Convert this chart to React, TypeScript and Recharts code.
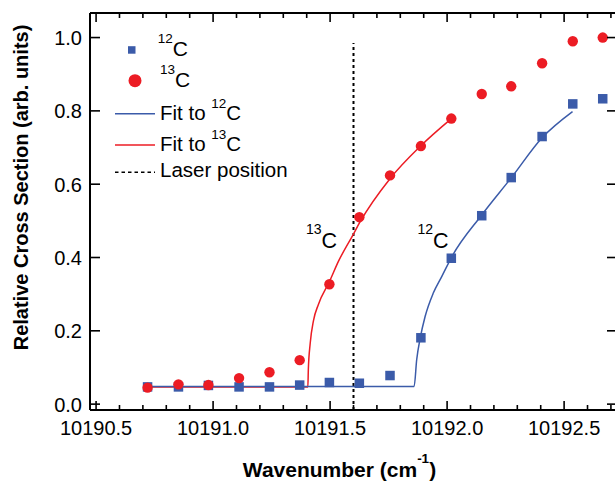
import React from "react";
import {
  ComposedChart,
  XAxis,
  YAxis,
  Line,
  Scatter,
  ReferenceLine,
  ReferenceDot,
} from "recharts";

const BLUE = "#3b5ba9";
const RED = "#ec1c24";
const FONT = "'Liberation Sans', Arial, Helvetica, sans-serif";

// measured points (wavenumber in cm-1)
const wavenumbers = [
  10190.72, 10190.852, 10190.98, 10191.111, 10191.241, 10191.37, 10191.497,
  10191.625, 10191.756, 10191.888, 10192.018, 10192.148, 10192.274, 10192.406,
  10192.537, 10192.665,
];
const c12Values = [
  0.047, 0.047, 0.051, 0.047, 0.047, 0.052, 0.059, 0.057, 0.078, 0.181, 0.398,
  0.514, 0.618, 0.73, 0.819, 0.833,
];
const c13Values = [
  0.045, 0.054, 0.052, 0.071, 0.087, 0.12, 0.327, 0.51, 0.624, 0.704, 0.779,
  0.846, 0.867, 0.93, 0.99, 1.0,
];

// fit curves
const fit12X = [
  10190.72, 10191.859, 10191.87, 10191.885, 10191.906, 10191.941, 10191.977,
  10192.02, 10192.148, 10192.276, 10192.405, 10192.536,
];
const fit12Y = [
  0.048, 0.048, 0.121, 0.18, 0.239, 0.303, 0.348, 0.402, 0.516, 0.619, 0.726,
  0.798,
];
const fit13X = [
  10190.72, 10191.405, 10191.407, 10191.415, 10191.429, 10191.45, 10191.497,
  10191.536, 10191.598, 10191.626, 10191.756, 10191.885, 10192.017,
];
const fit13Y = [
  0.047, 0.047, 0.094, 0.166, 0.228, 0.272, 0.334, 0.39, 0.462, 0.495, 0.615,
  0.703, 0.778,
];

const laserPosition = 10191.6;
const laserTop = 0.985;

const xTicks = [
  10190.5, 10190.6, 10190.7, 10190.8, 10190.9, 10191.0, 10191.1, 10191.2,
  10191.3, 10191.4, 10191.5, 10191.6, 10191.7, 10191.8, 10191.9, 10192.0,
  10192.1, 10192.2, 10192.3, 10192.4, 10192.5, 10192.6, 10192.7,
];
const yTicks = [0, 0.2, 0.4, 0.6, 0.8, 1.0];

const X_DOMAIN: [number, number] = [10190.474, 10192.726];
const Y_DOMAIN: [number, number] = [-0.016, 1.067];

const c12Data = wavenumbers.map((x, i) => ({ x, y: c12Values[i] }));
const c13Data = wavenumbers.map((x, i) => ({ x, y: c13Values[i] }));
const fit12Data = fit12X.map((x, i) => ({ x, y: fit12Y[i] }));
const fit13Data = fit13X.map((x, i) => ({ x, y: fit13Y[i] }));

const isMajor = (v: number) => Math.abs(v * 2 - Math.round(v * 2)) < 1e-6;

const BottomTick = (props: any) => {
  const { x, y, payload } = props;
  const v = payload.value;
  const major = isMajor(v);
  return (
    <g>
      <line x1={x} x2={x} y1={y} y2={y - (major ? 9 : 5)} stroke="#000" strokeWidth={1.6} />
      {major && (
        <text x={x} y={y + 25} textAnchor="middle" fontSize={20} fontFamily={FONT} fill="#000">
          {v.toFixed(1)}
        </text>
      )}
    </g>
  );
};

const TopTick = (props: any) => {
  const { x, y, payload } = props;
  const major = isMajor(payload.value);
  return <line x1={x} x2={x} y1={y} y2={y + (major ? 9 : 5)} stroke="#000" strokeWidth={1.6} />;
};

const LeftTick = (props: any) => {
  const { x, y, payload } = props;
  return (
    <g>
      <line x1={x} x2={x + 10} y1={y} y2={y} stroke="#000" strokeWidth={1.6} />
      <text x={x - 8} y={y + 7.5} textAnchor="end" fontSize={20} fontFamily={FONT} fill="#000">
        {payload.value.toFixed(1)}
      </text>
    </g>
  );
};

const RightTick = (props: any) => {
  const { x, y } = props;
  return <line x1={x} x2={x - 10} y1={y} y2={y} stroke="#000" strokeWidth={1.6} />;
};

const IsoLabel = ({ viewBox, mass }: any) => (
  <text x={viewBox.x} y={viewBox.y} textAnchor="end" fontFamily={FONT} fill="#000">
    <tspan fontSize={14} dy={-13.4}>{mass}</tspan>
    <tspan fontSize={21.5} dy={13.4}>C</tspan>
  </text>
);

const Square = (p: any) => (
  <rect x={p.cx - 4.75} y={p.cy - 4.75} width={9.5} height={9.5} fill={BLUE} />
);
const Circle = (p: any) => <circle cx={p.cx} cy={p.cy} r={5.2} fill={RED} />;

const axisLine = { stroke: "#000", strokeWidth: 2 };

function Legend() {
  return (
    <svg
      width={615}
      height={483}
      style={{ position: "absolute", left: 0, top: 0, pointerEvents: "none" }}
      fontFamily={FONT}
    >
      <rect x={128} y={46.2} width={7.5} height={7.5} fill={BLUE} />
      <text x={157.7} y={56} fill="#000">
        <tspan fontSize={13.5} dy={-13}>12</tspan>
        <tspan fontSize={21} dy={13}>C</tspan>
      </text>
      <circle cx={135} cy={80.7} r={6.5} fill={RED} />
      <text x={160} y={86.7} fill="#000">
        <tspan fontSize={13.5} dy={-13}>13</tspan>
        <tspan fontSize={21} dy={13}>C</tspan>
      </text>

      <line x1={115} x2={155} y1={113.7} y2={113.7} stroke={BLUE} strokeWidth={1.5} />
      <text x={160} y={120} fill="#000" fontSize={20.5}>
        {"Fit to "}
        <tspan fontSize={13.5} dy={-12.3}>12</tspan>
        <tspan dy={12.3}>C</tspan>
      </text>
      <line x1={115} x2={155} y1={145} y2={145} stroke={RED} strokeWidth={1.5} />
      <text x={160} y={151} fill="#000" fontSize={20.5}>
        {"Fit to "}
        <tspan fontSize={13.5} dy={-12.3}>13</tspan>
        <tspan dy={12.3}>C</tspan>
      </text>
      <line
        x1={115}
        x2={155}
        y1={172.3}
        y2={172.3}
        stroke="#000"
        strokeWidth={1.5}
        strokeDasharray="3.5 3"
      />
      <text x={160} y={176.7} fill="#000" fontSize={20.5}>
        Laser position
      </text>
    </svg>
  );
}

export default function App() {
  return (
    <div
      style={{
        position: "absolute",
        left: 0,
        top: 0,
        width: 615,
        height: 483,
        overflow: "hidden",
        background: "#fff",
      }}
    >
      <ComposedChart width={620} height={483} margin={{ top: 0, right: 0, bottom: 0, left: 0 }}>
        <XAxis
          xAxisId="b"
          dataKey="x"
          type="number"
          domain={X_DOMAIN}
          allowDataOverflow
          ticks={xTicks}
          interval={0}
          tickSize={0}
          tickMargin={0}
          tick={BottomTick}
          tickLine={false}
          axisLine={axisLine}
          height={73}
          label={(p: any) => {
            const vb = p.viewBox;
            return (
              <text
                x={vb.x + vb.width / 2 - 14}
                y={vb.y + 67}
                textAnchor="middle"
                fontFamily={FONT}
                fontWeight="bold"
                fontSize={21}
                fill="#000"
              >
                {"Wavenumber (cm"}
                <tspan fontSize={13.5} dy={-14}>-1</tspan>
                <tspan dy={14}>)</tspan>
              </text>
            );
          }}
        />
        <XAxis
          xAxisId="t"
          orientation="top"
          dataKey="x"
          type="number"
          domain={X_DOMAIN}
          allowDataOverflow
          ticks={xTicks}
          interval={0}
          tickSize={0}
          tickMargin={0}
          tick={TopTick}
          tickLine={false}
          axisLine={axisLine}
          height={13}
        />
        <YAxis
          yAxisId="l"
          type="number"
          domain={Y_DOMAIN}
          allowDataOverflow
          ticks={yTicks}
          interval={0}
          tickSize={0}
          tickMargin={0}
          tick={LeftTick}
          tickLine={false}
          axisLine={axisLine}
          width={90}
          label={(p: any) => {
            const vb = p.viewBox;
            return (
              <text
                transform={`translate(${vb.x + 28}, ${vb.y + vb.height / 2 - 24}) rotate(-90)`}
                textAnchor="middle"
                fontFamily={FONT}
                fontWeight="bold"
                fontSize={20}
                fill="#000"
              >
                Relative Cross Section (arb. units)
              </text>
            );
          }}
        />
        <YAxis
          yAxisId="r"
          orientation="right"
          type="number"
          domain={Y_DOMAIN}
          allowDataOverflow
          ticks={yTicks}
          interval={0}
          tickSize={0}
          tickMargin={0}
          tick={RightTick}
          tickLine={false}
          axisLine={axisLine}
          width={3}
        />

        <ReferenceLine
          xAxisId="b"
          yAxisId="l"
          segment={[
            { x: laserPosition, y: Y_DOMAIN[0] },
            { x: laserPosition, y: laserTop },
          ]}
          stroke="#000"
          strokeWidth={2}
          strokeDasharray="3 3"
        />

        <Line
          xAxisId="b"
          yAxisId="l"
          data={fit13Data}
          dataKey="y"
          type="monotone"
          stroke={RED}
          strokeWidth={1.5}
          dot={false}
          isAnimationActive={false}
        />
        <Line
          xAxisId="b"
          yAxisId="l"
          data={fit12Data}
          dataKey="y"
          type="monotone"
          stroke={BLUE}
          strokeWidth={1.5}
          dot={false}
          isAnimationActive={false}
        />
        <Scatter
          xAxisId="b"
          yAxisId="l"
          data={c12Data}
          dataKey="y"
          shape={Square}
          isAnimationActive={false}
        />
        <Scatter
          xAxisId="b"
          yAxisId="l"
          data={c13Data}
          dataKey="y"
          shape={Circle}
          isAnimationActive={false}
        />

        <ReferenceDot
          xAxisId="b"
          yAxisId="l"
          x={10191.53}
          y={0.427}
          r={0}
          fill="none"
          stroke="none"
          label={(p: any) => <IsoLabel viewBox={p.viewBox} mass="13" />}
        />
        <ReferenceDot
          xAxisId="b"
          yAxisId="l"
          x={10192.006}
          y={0.427}
          r={0}
          fill="none"
          stroke="none"
          label={(p: any) => <IsoLabel viewBox={p.viewBox} mass="12" />}
        />
      </ComposedChart>
      <Legend />
    </div>
  );
}
